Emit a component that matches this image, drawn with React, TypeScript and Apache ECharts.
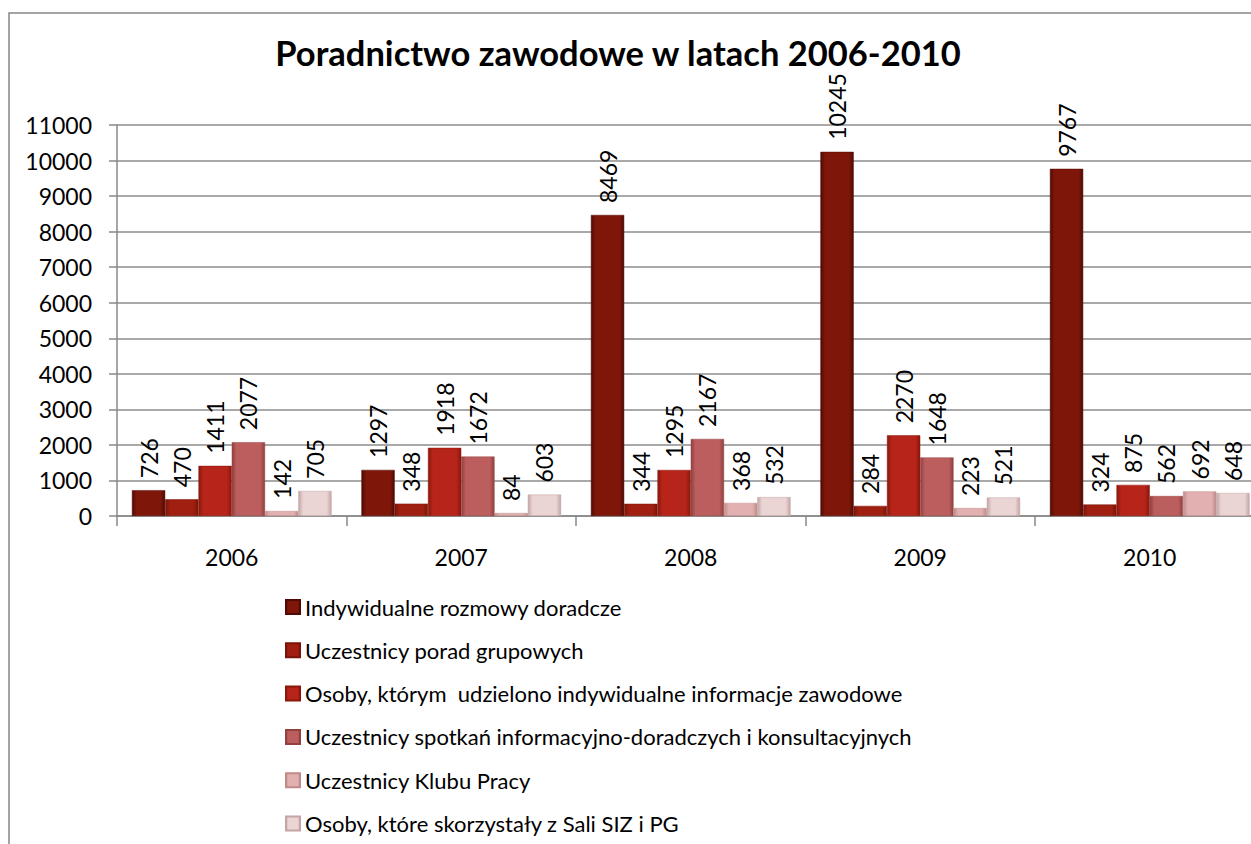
import React, { useEffect, useRef } from "react";
import * as echarts from "echarts";

const years = ["2006", "2007", "2008", "2009", "2010"];
const seriesNames = [
  "Indywidualne rozmowy doradcze",
  "Uczestnicy porad grupowych",
  "Osoby, którym  udzielono indywidualne informacje zawodowe",
  "Uczestnicy spotkań informacyjno-doradczych i konsultacyjnych",
  "Uczestnicy Klubu Pracy",
  "Osoby, które skorzystały z Sali SIZ i PG",
];
const indywidualne = [726, 1297, 8469, 10245, 9767];
const grupowe = [470, 348, 344, 284, 324];
const informacje = [1411, 1918, 1295, 2270, 875];
const spotkania = [2077, 1672, 2167, 1648, 562];
const klub = [142, 84, 368, 223, 692];
const sala = [705, 603, 532, 521, 648];
const yTicks = [0, 1000, 2000, 3000, 4000, 5000, 6000, 7000, 8000, 9000, 10000, 11000];

const palette: [string, string][] = [
  ["#520b04", "#7e170a"],
  ["#7a1409", "#a01f10"],
  ["#8a170a", "#b6241a"],
  ["#924040", "#bc5e5e"],
  ["#c08a8a", "#e2b0b0"],
  ["#c4a4a4", "#ead4d4"],
];

const FONT = "Lato";

export default function App() {
  const ref = useRef<HTMLDivElement>(null);
  useEffect(() => {
    if (!ref.current) return;
    const chart = echarts.init(ref.current, undefined, { renderer: "svg" });
    const all = [indywidualne, grupowe, informacje, spotkania, klub, sala];
    const series = all.map((d, i) => ({
      name: seriesNames[i],
      type: "bar" as const,
      data: d,
      barGap: "0%",
      barCategoryGap: "13%",
      itemStyle: {
        color: new echarts.graphic.LinearGradient(0, 0, 1, 0, [
          { offset: 0, color: palette[i][0] },
          { offset: 0.14, color: palette[i][1] },
          { offset: 0.86, color: palette[i][1] },
          { offset: 1, color: palette[i][0] },
        ]),
        borderColor: palette[i][0],
        borderWidth: 0.5,
      },
      label: {
        show: true,
        position: "top" as const,
        rotate: 90,
        align: "left",
        verticalAlign: "middle",
        distance: 12,
        fontSize: 23,
        fontFamily: FONT,
        color: "#000",
      },
    }));
    chart.setOption({
      animation: false,
      textStyle: { fontFamily: FONT },
      graphic: [
        {
          type: "rect",
          shape: { x: 9, y: 13, width: 1400, height: 1000 },
          style: { fill: "none", stroke: "#868686", lineWidth: 1.5 },
          z: -10,
        },
        {
          type: "text",
          x: 618,
          y: 52,
          style: {
            text: "Poradnictwo zawodowe w latach 2006-2010",
            fontFamily: FONT,
            fontWeight: "bold",
            fontSize: 34.5,
            fill: "#000",
            align: "center",
            verticalAlign: "middle",
          },
        },
      ],
      legend: {
        orient: "vertical",
        left: 280,
        top: 590,
        itemWidth: 14,
        itemHeight: 14,
        itemGap: 19.3,
        icon: "rect",
        textStyle: { fontSize: 22, fontFamily: FONT, color: "#000", lineHeight: 24 },
        data: seriesNames,
      },
      grid: { left: 117, top: 125, width: 1147.5, height: 391, containLabel: false },
      xAxis: {
        type: "category",
        data: years,
        axisLine: { lineStyle: { color: "#888", width: 1.5 } },
        axisTick: { show: true, length: 10, lineStyle: { color: "#888", width: 1.5 } },
        axisLabel: { fontSize: 23, fontFamily: FONT, color: "#000", margin: 29 },
      },
      yAxis: {
        type: "value",
        min: yTicks[0],
        max: yTicks[yTicks.length - 1],
        interval: 1000,
        axisLine: { show: true, lineStyle: { color: "#888", width: 1.5 } },
        axisTick: { show: true, length: 8, lineStyle: { color: "#888", width: 1.5 } },
        axisLabel: {
          fontSize: 23,
          fontFamily: FONT,
          color: "#000",
          margin: 25,
          formatter: (v: number) => String(v),
        },
        splitLine: { lineStyle: { color: "#8c8c8c", width: 1.5 } },
      },
      series,
    });
    return () => chart.dispose();
  }, []);
  return (
    <div style={{ position: "fixed", left: 0, top: 0, width: 1251, height: 844, overflow: "hidden", background: "#fff" }}>
      <div ref={ref} style={{ width: 1300, height: 900 }} />
    </div>
  );
}
